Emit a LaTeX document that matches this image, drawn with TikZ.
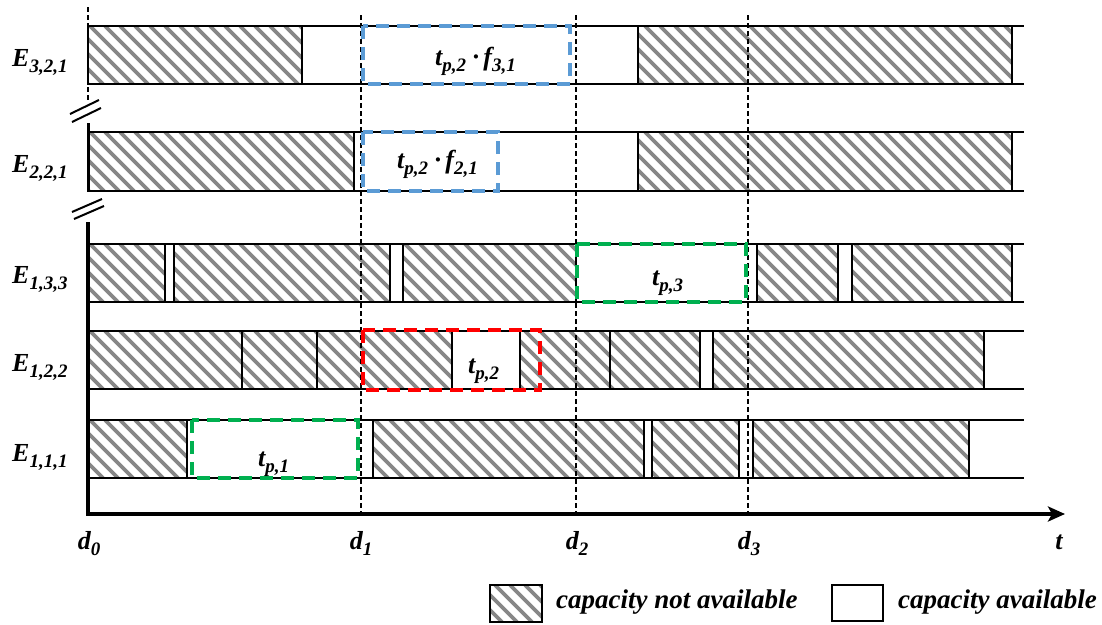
\documentclass[tikz,border=0pt]{standalone}
\usepackage{fontspec}
\setmainfont{Liberation Serif}
\usetikzlibrary{arrows.meta}
\definecolor{hatchgray}{RGB}{135,135,135}
\definecolor{bluebox}{RGB}{91,155,213}
\definecolor{greenbox}{RGB}{0,176,80}
\definecolor{redbox}{RGB}{255,0,0}
\tikzset{
  hatchline/.style={draw=hatchgray, line width=3.6pt},
  edge/.style={draw=black, line width=2pt},
  axisline/.style={draw=black, line width=3.5pt},
  dline/.style={draw=black, line width=1.3pt, dash pattern=on 5pt off 3pt},
  cbox/.style={line width=3.5pt, dash pattern=on 13pt off 8pt},
  lbl/.style={font=\fontsize{26}{30}\selectfont\bfseries\itshape, inner sep=0pt},
  leg/.style={font=\fontsize{27}{31}\selectfont\bfseries\itshape, inner sep=0pt, anchor=base west},
}
\newcommand\sbs[1]{\raisebox{-6pt}{\fontsize{19}{21}\selectfont #1}}
\newcommand\stripesrow[2]{\foreach \xx in {0,15,...,1035}{\draw[hatchline] (\xx,#1) -- ++({#2-#1},{#2-#1});}}
\newcommand\hrow[3]{%
  \begin{scope}
    \clip \foreach \a/\b in {#3}{(\a,#1) rectangle (\b,#2)};
    \stripesrow{#1}{#2}
  \end{scope}
  \foreach \a/\b in {#3}{\draw[edge] (\a,#1) rectangle (\b,#2);}
  \draw[edge] (88,#1) -- (1024,#1) (88,#2) -- (1024,#2);
}
\begin{document}
\begin{tikzpicture}[x=1pt,y=-1pt]
\useasboundingbox (0,0) rectangle (1102,624);

% rows
\hrow{26}{84}{88/302, 638/1012}
\hrow{132}{191}{88/354, 638/1012}
\hrow{244}{302}{88/165, 174/390, 403/576, 757/838, 852/1012}
\hrow{331}{389}{88/242, 242/317, 317/452, 520/610, 610/700, 713/984}
\hrow{420}{478}{88/187, 373/644, 652/739, 753/969}

% axes
\coordinate (ax0) at (88,222);
\coordinate (orig) at (88,514);
\coordinate (axend) at (1065,514);
\draw[axisline, line join=miter, -{Stealth[length=17pt,width=15pt,inset=4pt]}] (ax0) -- (orig) -- (axend);
\draw[edge, line width=3pt] (88,123) -- (88,191);
\draw[dline] (88,7) -- (88,100);

% break marks
\draw[edge] (70,114) -- (99,100) (72,122) -- (101,108);
\draw[edge] (72,212) -- (102,199) (74,219) -- (104,206);

% deadline lines
\draw[dline] (361,15) -- (361,514);
\draw[dline] (576,15) -- (576,514);
\draw[dline] (748,15) -- (748,514);

% coloured job boxes
\draw[cbox, draw=bluebox] (363,26) rectangle (570,84);
\draw[cbox, draw=bluebox] (363,132) rectangle (498,191);
\draw[cbox, draw=greenbox] (577,244) rectangle (746,302);
\draw[cbox, draw=redbox] (363,330) rectangle (540,390);
\draw[cbox, draw=greenbox] (192,420) rectangle (358,478);

% row labels
\node[lbl, anchor=base west] (e321) at (12,66) {E\sbs{3,2,1}};
\node[lbl, anchor=base west] (e221) at (12,172) {E\sbs{2,2,1}};
\node[lbl, anchor=base west] (e133) at (12,283) {E\sbs{1,3,3}};
\node[lbl, anchor=base west] (e122) at (12,371) {E\sbs{1,2,2}};
\node[lbl, anchor=base west] (e111) at (12,461) {E\sbs{1,1,1}};

% box labels
\node[lbl, anchor=base west] (tf31) at (435,65) {t\sbs{p,2} ·\,f\sbs{3,1}};
\node[lbl, anchor=base west] (tf21) at (397,168) {t\sbs{p,2} ·\,f\sbs{2,1}};
\node[lbl, anchor=base west] (tp3) at (652,285) {t\sbs{p,3}};
\node[lbl, anchor=base west] (tp2) at (468,373) {t\sbs{p,2}};
\node[lbl, anchor=base west] (tp1) at (258,466) {t\sbs{p,1}};

% axis labels
\node[lbl, anchor=base] (d0) at (89,549) {d\sbs{0}};
\node[lbl, anchor=base] (d1) at (361,549) {d\sbs{1}};
\node[lbl, anchor=base] (d2) at (577,549) {d\sbs{2}};
\node[lbl, anchor=base] (d3) at (749,549) {d\sbs{3}};
\node[lbl, anchor=base] (tt) at (1059,549) {t};

% legend
\begin{scope}
  \clip (490,585) rectangle (542,622);
  \stripesrow{585}{622}
\end{scope}
\draw[edge, line width=2.5pt] (490,585) rectangle (542,622);
\node[leg] (legna) at (556,608) {capacity not available};
\draw[edge, line width=2.5pt] (832,585) rectangle (883,621);
\node[leg] (lega) at (898,608) {capacity available};
\end{tikzpicture}
\end{document}
